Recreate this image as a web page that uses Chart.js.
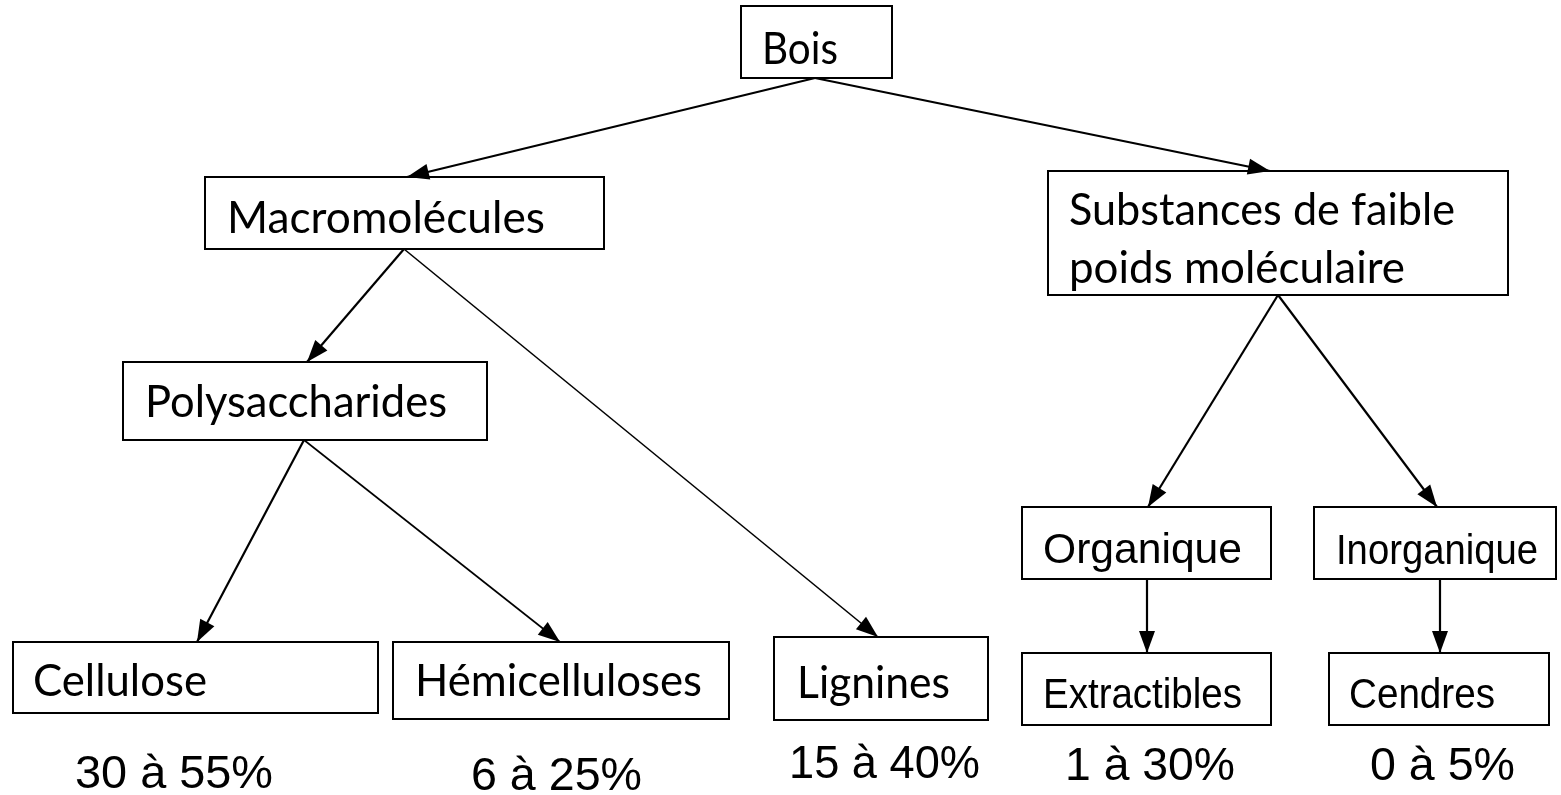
<!DOCTYPE html>
<html>
<head>
<meta charset="utf-8">
<script src="https://cdn.jsdelivr.net/npm/chart.js@4"></script>
<style>
  html, body { margin: 0; padding: 0; background: #fff; }
  #wrap { width: 1561px; height: 795px; position: relative; }
</style>
</head>
<body>
<div id="wrap"><canvas id="tree"></canvas></div>
<script>
// node names (the tree), parent index of each node, and the share labels under the leaves
const nodeLabels = ['Bois', 'Macromolécules', 'Substances de faible\npoids moléculaire', 'Polysaccharides',
    'Cellulose', 'Hémicelluloses', 'Lignines', 'Organique', 'Inorganique', 'Extractibles', 'Cendres'];
const nodeParents = [-1, 0, 0, 1, 3, 3, 1, 2, 2, 7, 8];
const shareMin = [30, 6, 15, 1, 0];
const shareMax = [55, 25, 40, 30, 5];
const shareLabels = shareMin.map((v, i) => `${v} à ${shareMax[i]}%`);

// layout in diagram units: box [x0, y0, x1, y1], text left, baselines, text widths, in/out anchors
const boxes = [
    [741, 6, 892, 78], [205, 177, 604, 249], [1048, 171, 1508, 295], [123, 362, 487, 440],
    [13, 642, 378, 713], [393, 642, 729, 719], [774, 637, 988, 720], [1022, 507, 1271, 579],
    [1314, 507, 1556, 579], [1022, 653, 1271, 725], [1329, 653, 1549, 725]
];
const textLeft = [762, 227, 1069, 145, 33, 415, 797, 1043, 1336, 1043, 1349];
const textBase = [[64], [233], [225, 283], [417], [696], [696], [698], [563], [564], [708], [708]];
const textWidth = [[76], [318], [386, 336], [302], [174], [287], [153], [199], [202], [199], [146]];
const textFace = ['c', 'c', 'c', 'c', 'c', 'c', 'c', 'a', 'a', 'a', 'a'];
const inX = [null, 407, 1270, 307, 197, 560, 878, 1148, 1437, 1147, 1440];
const outX = [815, 404, 1278, 304, null, null, null, 1147, 1440, null, null];
const thinEdges = [5, 6];
const shareLeft = [75, 471, 789, 1065, 1370];
const shareBase = [788, 790, 778, 780, 780];
const shareWidth = [198, 171, 191, 170, 145];

const FONT_C = 'Lato, "Open Sans", sans-serif';
const FONT_A = '"Liberation Sans", Arial, sans-serif';

// one line dataset per edge, from parent's bottom anchor to child's top anchor
const edgeSets = [];
nodeParents.forEach((p, i) => {
    if (p < 0) return;
    edgeSets.push({
        data: [{ x: outX[p], y: boxes[p][3] }, { x: inX[i], y: boxes[i][1] }],
        showLine: true,
        borderColor: '#000',
        borderWidth: thinEdges.includes(i) ? 1.6 : 2.2,
        pointRadius: 0,
        clip: false
    });
});

function fitText(ctx, str, x, y, w, font) {
    ctx.font = font;
    const natural = ctx.measureText(str).width;
    ctx.save();
    ctx.translate(x, y);
    ctx.scale(w / natural, 1);
    ctx.fillText(str, 0, 0);
    ctx.restore();
}

const treePlugin = {
    id: 'treePlugin',
    afterDatasetsDraw(chart) {
        const { ctx } = chart;
        const sx = chart.scales.x, sy = chart.scales.y;
        const px = v => sx.getPixelForValue(v);
        const py = v => sy.getPixelForValue(v);

        // arrowheads
        ctx.save();
        ctx.fillStyle = '#000';
        chart.data.datasets.forEach(ds => {
            const [a, b] = ds.data;
            const x1 = px(a.x), y1 = py(a.y), x2 = px(b.x), y2 = py(b.y);
            const ang = Math.atan2(y2 - y1, x2 - x1);
            const len = 22, half = 8;
            ctx.beginPath();
            ctx.moveTo(x2, y2);
            ctx.lineTo(x2 - len * Math.cos(ang) + half * Math.sin(ang), y2 - len * Math.sin(ang) - half * Math.cos(ang));
            ctx.lineTo(x2 - len * Math.cos(ang) - half * Math.sin(ang), y2 - len * Math.sin(ang) + half * Math.cos(ang));
            ctx.closePath();
            ctx.fill();
        });
        ctx.restore();

        // boxes and their labels
        ctx.save();
        ctx.strokeStyle = '#000';
        ctx.lineWidth = 2;
        ctx.fillStyle = '#000';
        ctx.textBaseline = 'alphabetic';
        boxes.forEach((b, i) => {
            ctx.strokeRect(px(b[0]), py(b[1]), px(b[2]) - px(b[0]), py(b[3]) - py(b[1]));
            const font = textFace[i] === 'c' ? `44px ${FONT_C}` : `42px ${FONT_A}`;
            nodeLabels[i].split('\n').forEach((line, k) => {
                fitText(ctx, line, px(textLeft[i]), py(textBase[i][k]), textWidth[i][k], font);
            });
        });

        // share ranges under the leaves
        shareLabels.forEach((s, i) => {
            fitText(ctx, s, px(shareLeft[i]), py(shareBase[i]), shareWidth[i], `46px ${FONT_A}`);
        });
        ctx.restore();
    }
};

new Chart(document.getElementById('tree'), {
    type: 'scatter',
    data: { datasets: edgeSets },
    options: {
        responsive: true,
        maintainAspectRatio: false,
        animation: false,
        layout: { padding: 0 },
        plugins: {
            legend: { display: false },
            tooltip: { enabled: false }
        },
        scales: {
            x: { type: 'linear', min: 0, max: 1561, display: false },
            y: { type: 'linear', min: 0, max: 795, reverse: true, display: false }
        }
    },
    plugins: [treePlugin]
});
</script>
</body>
</html>
